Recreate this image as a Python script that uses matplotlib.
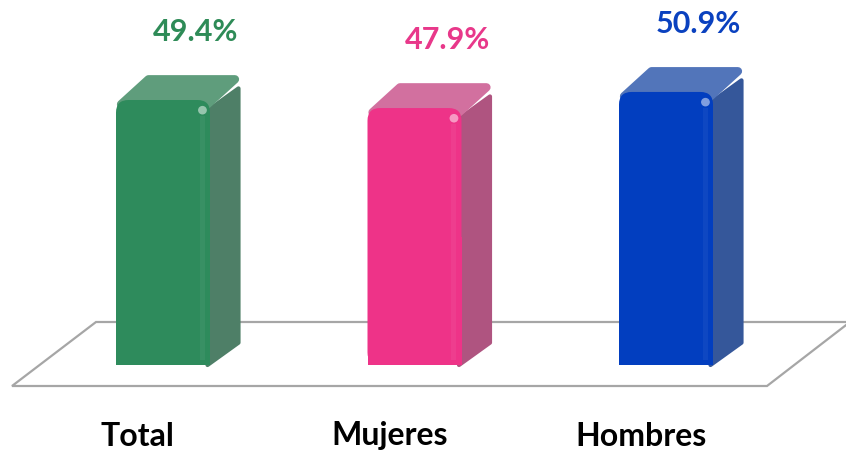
import matplotlib

matplotlib.use("Agg")
import matplotlib.pyplot as plt
from matplotlib.patches import FancyBboxPatch, Rectangle, Polygon, Ellipse

categories = ["Total", "Mujeres", "Hombres"]
values = [49.4, 47.9, 50.9]
value_labels = ["49.4%", "47.9%", "50.9%"]

front_colors = ["#2E8B5C", "#EE3388", "#023EBF"]
side_colors = ["#4E7F67", "#AF5480", "#35579A"]
top_colors = ["#5F9D7C", "#D2709F", "#5275BA"]
text_colors = ["#2E8B57", "#E8388A", "#0A41BF"]

plt.rcParams["font.family"] = ["Lato", "DejaVu Sans"]

W, H = 846, 450
fig = plt.figure(figsize=(W / 100, H / 100), dpi=100)
ax = fig.add_axes([0, 0, 1, 1])

# axis scales: categories 251.5 px apart, 5.364 px per percent, 0% at 365 px from top
px_x = 251.5
px_y = 265 / 49.4
x0_px, y0_px = 163, H - 365
ax.set_xlim(-x0_px / px_x, (W - x0_px) / px_x)
ax.set_ylim(-y0_px / px_y, (H - y0_px) / px_y)
ax.axis("off")

bar_w = 94 / px_x
dx = 30 / px_x
dy = 25 / px_y
aspect = px_x / px_y


def fx(p):
    return p / W


def fy(p):
    return 1 - p / H


# floor
floor = Polygon([(fx(12), fy(386)), (fx(96), fy(322)), (fx(850), fy(322)), (fx(767), fy(386))],
                closed=True, transform=ax.transAxes, facecolor="white",
                edgecolor="#A6A6A6", linewidth=1.6, zorder=1)
ax.add_patch(floor)

for i, v in enumerate(values):
    left = i - bar_w / 2
    right = i + bar_w / 2
    # side face
    ax.add_patch(Polygon([(right - 0.01, 0), (right + dx - 0.006, dy - 0.5),
                          (right + dx - 0.006, v + dy - 2.5), (right - 0.01, v - 2)],
                         closed=True, facecolor=side_colors[i], edgecolor=side_colors[i],
                         linewidth=3, joinstyle="round", zorder=2))
    # top face
    ax.add_patch(Polygon([(left + 0.02, v - 0.8), (left + dx + 0.01, v + dy - 0.8),
                          (right + dx - 0.02, v + dy - 0.8), (right - 0.01, v - 0.8)],
                         closed=True, facecolor=top_colors[i], edgecolor=top_colors[i],
                         linewidth=6, joinstyle="round", zorder=2))
    # front face with rounded top
    ax.add_patch(FancyBboxPatch((left, 0), bar_w, v,
                                boxstyle="round,pad=0,rounding_size=0.05",
                                mutation_aspect=aspect, facecolor=front_colors[i],
                                edgecolor="none", zorder=3))
    ax.add_patch(Rectangle((left, 0), bar_w, v / 2, facecolor=front_colors[i],
                           edgecolor="none", zorder=3))
    # subtle highlight stripe and glint
    ax.add_patch(Rectangle((right - 0.04, 1), 0.02, v - 4, facecolor="white",
                           alpha=0.05, edgecolor="none", zorder=4))
    ax.add_patch(Ellipse((right - 0.03, v - 1.9), 0.035, 1.6, facecolor="white",
                         alpha=0.5, edgecolor="none", zorder=4))

    ax.text(i + 0.13, v + dy + 43 / px_y, value_labels[i], ha="center", va="center",
            fontsize=22, fontweight="bold", color=text_colors[i], zorder=5)
    ax.text(i - 0.1, -(436 - 365) / px_y, categories[i], ha="center", va="center",
            fontsize=23, fontweight="bold", color="black", zorder=5)

fig.savefig("out.png", dpi=100)
